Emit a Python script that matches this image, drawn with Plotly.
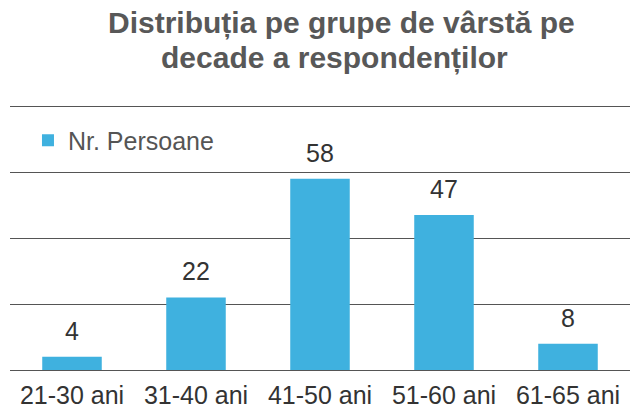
import plotly.graph_objects as go

categories = ["21-30 ani", "31-40 ani", "41-50 ani", "51-60 ani", "61-65 ani"]
values = [4, 22, 58, 47, 8]
series_name = "Nr. Persoane"
title_lines = ["Distribuția pe grupe de vârstă pe", "decade a respondenților"]

FONT = "Liberation Sans, Arial, sans-serif"

fig = go.Figure()
fig.add_trace(go.Bar(
    x=categories, y=values, name=series_name,
    marker=dict(color="#3fb1df", line=dict(width=0)),
    showlegend=True,
))

# value labels above the bars
for c, v in zip(categories, values):
    fig.add_annotation(x=c, y=v, text=str(v), showarrow=False,
                       yanchor="bottom", yshift=10,
                       font=dict(family=FONT, size=25, color="#333333"))

# two-line title
for txt, xp, yp in zip(title_lines, [0.534, 0.524], [1.298, 1.168]):
    fig.add_annotation(x=xp, y=yp, xref="paper", yref="paper", text=txt,
                       showarrow=False, xanchor="center", yanchor="middle",
                       font=dict(family=FONT, size=30, color="#585858", weight="bold"))

fig.update_layout(
    width=632, height=419,
    margin=dict(l=10, r=2, t=103, b=49),
    paper_bgcolor="white", plot_bgcolor="white",
    bargap=0.52,
    legend=dict(x=0.029, y=0.86, xanchor="left", yanchor="middle",
                bgcolor="rgba(0,0,0,0)",
                font=dict(family=FONT, size=25, color="#555555")),
    xaxis=dict(showgrid=False, showline=False, ticks="", ticklabelstandoff=8,
               tickfont=dict(family=FONT, size=25, color="#333333")),
    yaxis=dict(range=[0, 81], tickvals=[0, 20, 40, 60, 80], showticklabels=False,
               showgrid=True, gridcolor="#555555", gridwidth=1, zeroline=True,
               zerolinecolor="#555555", zerolinewidth=1, showline=False),
)

fig.write_html("out.html", config={"displayModeBar": False},
               post_script="document.body.style.margin='0';")
